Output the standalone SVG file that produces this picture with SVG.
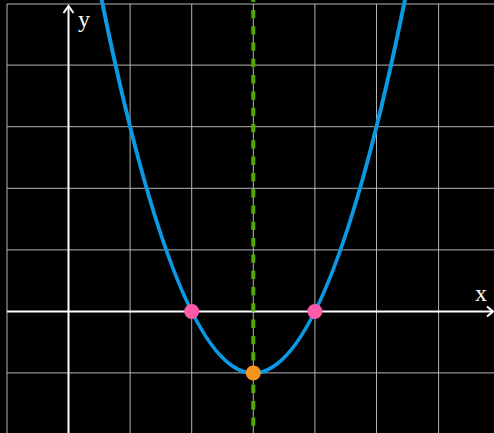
<svg xmlns="http://www.w3.org/2000/svg" width="494" height="433" viewBox="0 0 494 433">
<style>
.grid line{stroke:#b4b4b4;stroke-width:1}
.axis{stroke:#ffffff;stroke-width:2;fill:none}
.lbl{font-family:"Liberation Serif",serif;font-size:24px;fill:#ffffff}
</style>
<rect width="494" height="433" fill="#000000"/>
<g id="grid" class="grid">
<line x1="7" y1="4" x2="7" y2="433"/>
<line x1="130.1" y1="4" x2="130.1" y2="433"/>
<line x1="191.7" y1="4" x2="191.7" y2="433"/>
<line x1="253.3" y1="4" x2="253.3" y2="433"/>
<line x1="314.9" y1="4" x2="314.9" y2="433"/>
<line x1="376.5" y1="4" x2="376.5" y2="433"/>
<line x1="438.6" y1="4" x2="438.6" y2="433"/>
<line x1="7" y1="4" x2="494" y2="4"/>
<line x1="7" y1="65.1" x2="494" y2="65.1"/>
<line x1="7" y1="126.7" x2="494" y2="126.7"/>
<line x1="7" y1="188.3" x2="494" y2="188.3"/>
<line x1="7" y1="249.9" x2="494" y2="249.9"/>
<line x1="7" y1="372.9" x2="494" y2="372.9"/>
</g>
<g id="axes">
<line class="axis" x1="68.5" y1="433" x2="68.5" y2="6"/>
<polyline class="axis" points="63.5,13 68.5,6 73.5,13"/>
<line class="axis" x1="7" y1="311.5" x2="492" y2="311.5"/>
<polyline class="axis" points="487,306.5 493,311.5 487,316.5"/>
<text class="lbl" x="78" y="27">y</text>
<text class="lbl" x="475" y="301">x</text>
</g>
<g id="connectors">
<line x1="253.3" y1="-6.4" x2="253.3" y2="440" stroke="#55a800" stroke-width="4" stroke-dasharray="8.3,8"/>
<path d="M96.22,-27.45 Q253.3,773.65 410.38,-27.45" fill="none" stroke="#0b99e6" stroke-width="4"/>
</g>
<g id="root1"><circle cx="191.7" cy="311.5" r="7.5" fill="#ff5aaa"/></g>
<g id="root2"><circle cx="314.9" cy="311.5" r="7.5" fill="#ff5aaa"/></g>
<g id="vertex"><circle cx="253.3" cy="372.9" r="7.5" fill="#f7941d"/></g>
</svg>
